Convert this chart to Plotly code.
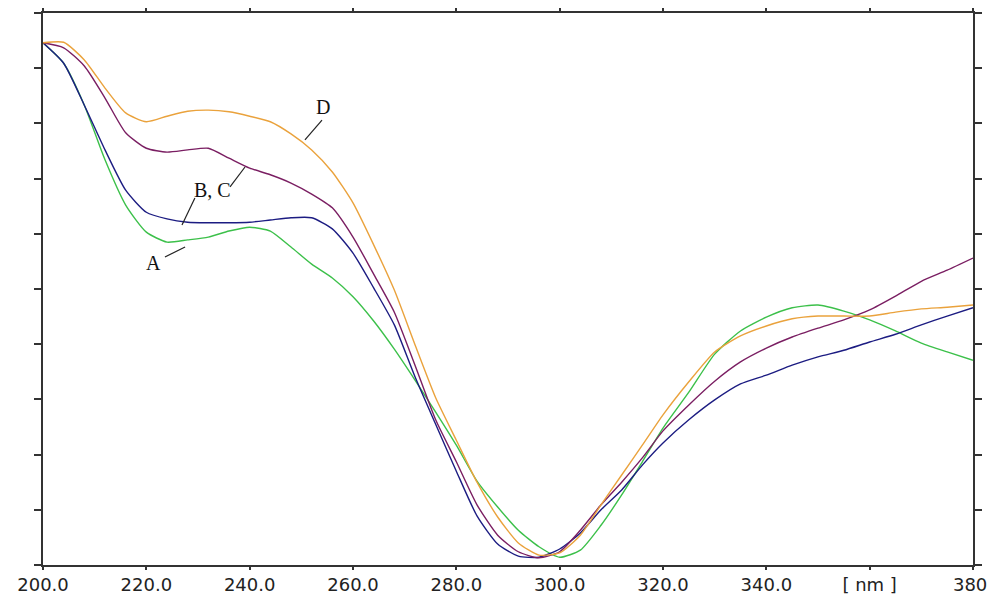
import plotly.graph_objects as go

wavelength = [200, 204, 208, 212, 216, 220, 224, 228, 232, 236, 240, 244, 248, 252, 256, 260,
              264, 268, 272, 276, 280, 284, 288, 292, 296, 300, 304, 308, 312, 316, 320, 325,
              330, 335, 340, 345, 350, 355, 360, 365, 370, 375, 380]

curve_A = [9.46, 9.09, 8.33, 7.34, 6.52, 6.03, 5.85, 5.89, 5.94, 6.05, 6.12, 6.05, 5.76, 5.45,
           5.20, 4.86, 4.42, 3.91, 3.35, 2.77, 2.17, 1.52, 1.05, 0.63, 0.33, 0.14, 0.27, 0.72,
           1.27, 1.87, 2.48, 3.13, 3.82, 4.24, 4.49, 4.66, 4.71, 4.60, 4.44, 4.24, 4.02, 3.86, 3.71]

curve_B = [9.46, 9.09, 8.33, 7.52, 6.79, 6.39, 6.27, 6.21, 6.20, 6.20, 6.21, 6.25, 6.29, 6.29,
           6.09, 5.65, 5.02, 4.35, 3.41, 2.55, 1.70, 0.89, 0.38, 0.16, 0.14, 0.29, 0.58, 1.00,
           1.36, 1.81, 2.21, 2.63, 2.99, 3.28, 3.44, 3.62, 3.77, 3.89, 4.04, 4.18, 4.35, 4.51, 4.66]

curve_C = [9.46, 9.37, 9.04, 8.46, 7.83, 7.55, 7.48, 7.52, 7.55, 7.37, 7.19, 7.07, 6.92, 6.72,
           6.47, 5.94, 5.27, 4.58, 3.62, 2.63, 1.87, 1.09, 0.54, 0.24, 0.13, 0.24, 0.63, 1.09,
           1.50, 1.94, 2.43, 2.90, 3.33, 3.68, 3.93, 4.13, 4.29, 4.44, 4.62, 4.87, 5.14, 5.34, 5.56]

curve_D = [9.46, 9.47, 9.15, 8.64, 8.19, 8.03, 8.13, 8.22, 8.24, 8.21, 8.13, 8.03, 7.81, 7.52,
           7.12, 6.56, 5.80, 4.98, 3.99, 3.03, 2.26, 1.50, 0.87, 0.40, 0.18, 0.22, 0.54, 1.09,
           1.63, 2.17, 2.72, 3.32, 3.86, 4.15, 4.33, 4.46, 4.51, 4.51, 4.51, 4.58, 4.64, 4.67, 4.71]

x_ticks = [200, 220, 240, 260, 280, 300, 320, 340, 360, 380]
x_tick_text = ["200.0", "220.0", "240.0", "260.0", "280.0", "300.0", "320.0", "340.0", "[ nm ]", "380."]
y_ticks = list(range(0, 11))

series = [
    ("A", curve_A, "#3cc04a"),
    ("B", curve_B, "#1c1c82"),
    ("C", curve_C, "#7a1e62"),
    ("D", curve_D, "#eaa23c"),
]

fig = go.Figure()
for name, vals, col in series:
    fig.add_trace(go.Scatter(
        x=wavelength, y=vals, mode="lines", name=name,
        line=dict(color=col, width=1.4, shape="spline", smoothing=0.6),
        hoverinfo="skip", cliponaxis=False,
    ))

# leader lines for labels
leaders = [
    (254.0, 8.06, 250.7, 7.70),   # D
    (239.1, 7.21, 236.2, 6.85),   # C
    (229.4, 6.65, 226.9, 6.16),   # B
    (223.6, 5.58, 227.5, 5.76),   # A
]
for x0, y0, x1, y1 in leaders:
    fig.add_shape(type="line", x0=x0, y0=y0, x1=x1, y1=y1, xref="x", yref="y",
                  line=dict(color="#222222", width=1.2))

labels = [("D", 254.2, 8.30), ("B, C", 232.9, 6.79), ("A", 221.3, 5.47)]
for txt, lx, ly in labels:
    fig.add_annotation(x=lx, y=ly, text=txt, showarrow=False, xref="x", yref="y",
                       font=dict(family="Liberation Serif", size=20, color="#111111"))

fig.update_xaxes(range=[200, 380], tickvals=x_ticks, ticktext=x_tick_text,
                 showline=True, linecolor="#333333", linewidth=1.5, mirror="ticks",
                 ticks="outside", ticklen=3, tickcolor="#333333", tickwidth=1.5,
                 showgrid=False, zeroline=False, automargin=False,
                 ticklabeloverflow="allow",
                 tickfont=dict(family="DejaVu Sans", size=18, color="#222222"))
fig.update_yaxes(range=[0, 10], tickvals=y_ticks, showticklabels=False,
                 showline=True, linecolor="#333333", linewidth=1.5, mirror="ticks",
                 ticks="outside", ticklen=7, tickcolor="#333333", tickwidth=1.5,
                 showgrid=False, zeroline=False, automargin=False)

fig.update_layout(width=988, height=596, showlegend=False,
                  margin=dict(l=43, r=15, t=13, b=31, autoexpand=False),
                  paper_bgcolor="white", plot_bgcolor="white")

fig.write_html("out.html", config={"displayModeBar": False},
               post_script="document.body.style.margin='0px';"
                           "document.documentElement.style.overflow='hidden';")
